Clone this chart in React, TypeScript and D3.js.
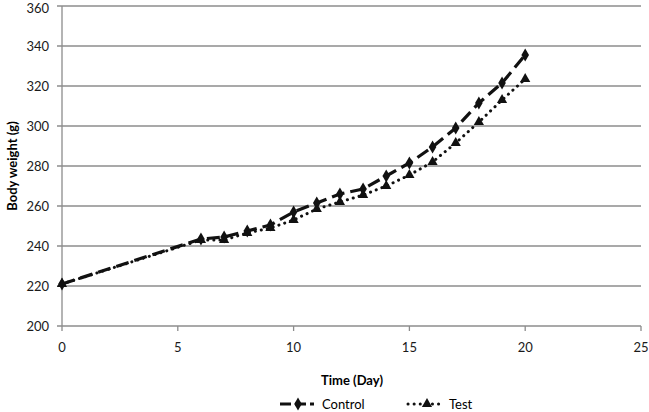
import React, { useEffect, useRef } from 'react';
import * as d3 from 'd3';

// Data
const days = [0, 6, 7, 8, 9, 10, 11, 12, 13, 14, 15, 16, 17, 18, 19, 20];
const controlWeights = [221, 243.5, 244.5, 247.5, 250.5, 257, 261.5, 266, 268.5, 275, 281.5, 289.5, 299, 311.5, 321.5, 335.5];
const testWeights = [221, 243, 243, 246.5, 249, 253, 258.5, 262, 265.5, 270, 275.5, 282, 291.5, 302, 313, 323.5];
const xTicks = [0, 5, 10, 15, 20, 25];
const yTicks = [200, 220, 240, 260, 280, 300, 320, 340, 360];

const FONT = 'Lato, "Open Sans", sans-serif';

const App = () => {
  const svgRef = useRef<SVGSVGElement>(null);

  useEffect(() => {
    const svg = d3.select(svgRef.current);
    svg.selectAll('*').remove();

    // plot area in pixels
    const left = 62, right = 641, top = 6, bottom = 326;

    const x = d3.scaleLinear().domain([0, 25]).range([left, right]);
    const y = d3.scaleLinear().domain([200, 360]).range([bottom, top]);

    // horizontal gridlines
    svg.append('g')
      .selectAll('line')
      .data(yTicks)
      .enter().append('line')
      .attr('x1', left - 5)
      .attr('x2', right)
      .attr('y1', d => y(d))
      .attr('y2', d => y(d))
      .attr('stroke', '#8c8c8c')
      .attr('stroke-width', 1.3);

    // y axis line
    svg.append('line')
      .attr('x1', left).attr('x2', left)
      .attr('y1', top).attr('y2', bottom)
      .attr('stroke', '#8c8c8c').attr('stroke-width', 1.3);

    // x tick marks
    svg.append('g')
      .selectAll('line')
      .data(xTicks)
      .enter().append('line')
      .attr('x1', d => x(d)).attr('x2', d => x(d))
      .attr('y1', bottom).attr('y2', bottom + 5)
      .attr('stroke', '#8c8c8c').attr('stroke-width', 1.3);

    // tick labels (top one nudged so it stays inside the picture)
    svg.append('g')
      .selectAll('text')
      .data(yTicks)
      .enter().append('text')
      .attr('x', 49)
      .attr('y', d => Math.max(y(d), 8))
      .attr('dy', '0.35em')
      .attr('text-anchor', 'end')
      .style('font-family', FONT)
      .style('font-size', '13px')
      .attr('fill', '#1a1a1a')
      .text(d => d);

    svg.append('g')
      .selectAll('text')
      .data(xTicks)
      .enter().append('text')
      .attr('x', d => x(d))
      .attr('y', 347)
      .attr('dy', '0.35em')
      .attr('text-anchor', 'middle')
      .style('font-family', FONT)
      .style('font-size', '13px')
      .attr('fill', '#1a1a1a')
      .text(d => d);

    // axis titles
    svg.append('text')
      .attr('x', 352).attr('y', 380)
      .attr('dy', '0.35em')
      .attr('text-anchor', 'middle')
      .style('font-family', FONT)
      .style('font-size', '13px')
      .style('font-weight', 'bold')
      .text('Time (Day)');

    svg.append('text')
      .attr('transform', 'translate(12,166) rotate(-90)')
      .attr('dy', '0.35em')
      .attr('text-anchor', 'middle')
      .style('font-family', FONT)
      .style('font-size', '13px')
      .style('font-weight', 'bold')
      .text('Body weight (g)');

    const line = d3.line<number>()
      .x((_, i) => x(days[i]))
      .y(d => y(d));

    // Test series (dotted, triangles)
    svg.append('path')
      .datum(testWeights)
      .attr('d', line)
      .attr('fill', 'none')
      .attr('stroke', '#111')
      .attr('stroke-width', 3)
      .attr('stroke-linecap', 'round')
      .attr('stroke-dasharray', '0.1,6');

    const triangle = d3.symbol().type(d3.symbolTriangle).size(45);
    svg.append('g')
      .selectAll('path')
      .data(testWeights)
      .enter().append('path')
      .attr('d', triangle)
      .attr('transform', (d, i) => `translate(${x(days[i])},${y(d)})`)
      .attr('fill', '#111');

    // Control series (long dash, diamonds)
    svg.append('path')
      .datum(controlWeights)
      .attr('d', line)
      .attr('fill', 'none')
      .attr('stroke', '#111')
      .attr('stroke-width', 3.2)
      .attr('stroke-dasharray', '13,6');

    const diamond = d3.symbol().type(d3.symbolDiamond).size(50);
    svg.append('g')
      .selectAll('path')
      .data(controlWeights)
      .enter().append('path')
      .attr('d', diamond)
      .attr('transform', (d, i) => `translate(${x(days[i])},${y(d)})`)
      .attr('fill', '#111');

    // legend
    const legendY = 404;
    const lg = svg.append('g');
    lg.append('line')
      .attr('x1', 280).attr('x2', 314)
      .attr('y1', legendY).attr('y2', legendY)
      .attr('stroke', '#111').attr('stroke-width', 3.2)
      .attr('stroke-dasharray', '11,4');
    lg.append('path')
      .attr('d', diamond)
      .attr('transform', `translate(298,${legendY})`)
      .attr('fill', '#111');
    lg.append('text')
      .attr('x', 322).attr('y', legendY)
      .attr('dy', '0.35em')
      .style('font-family', FONT)
      .style('font-size', '13px')
      .text('Control');

    lg.append('line')
      .attr('x1', 408).attr('x2', 444)
      .attr('y1', legendY).attr('y2', legendY)
      .attr('stroke', '#111').attr('stroke-width', 3)
      .attr('stroke-linecap', 'round')
      .attr('stroke-dasharray', '0.1,6');
    lg.append('path')
      .attr('d', triangle)
      .attr('transform', `translate(427,${legendY})`)
      .attr('fill', '#111');
    lg.append('text')
      .attr('x', 449).attr('y', legendY)
      .attr('dy', '0.35em')
      .style('font-family', FONT)
      .style('font-size', '13px')
      .text('Test');
  }, []);

  return (
    <svg
      ref={svgRef}
      width={649}
      height={412}
      style={{ position: 'absolute', left: 0, top: 0, background: '#fff' }}
    />
  );
};

export default App;
